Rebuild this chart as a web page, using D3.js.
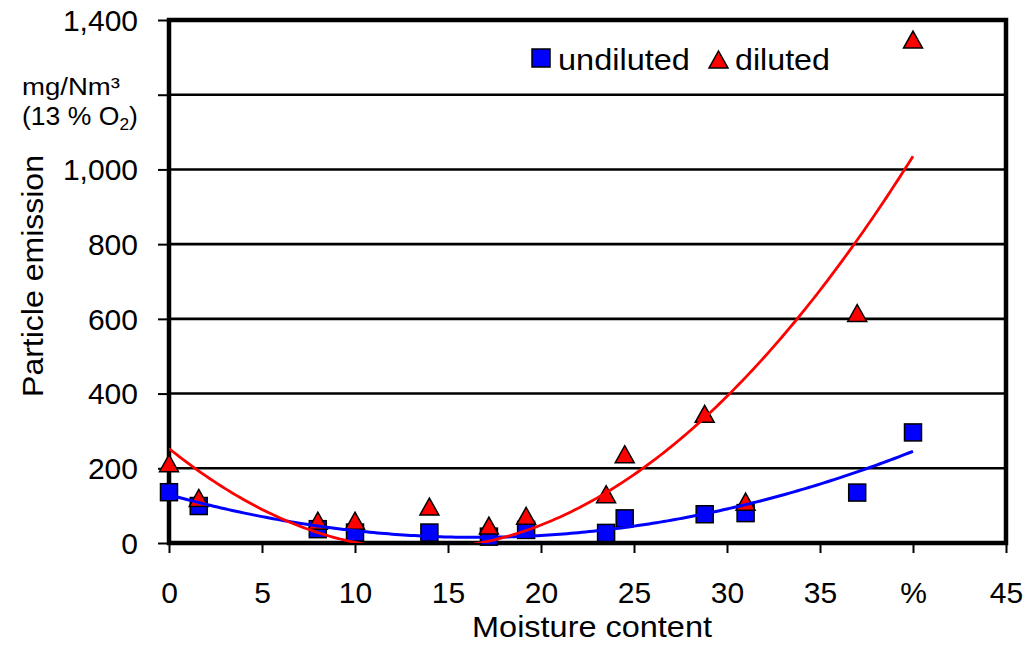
<!DOCTYPE html>
<html><head><meta charset="utf-8">
<script src="https://cdn.jsdelivr.net/npm/d3@7"></script>
<style>
body{margin:0;background:#fff}
text{font-family:"Liberation Sans",Arial,sans-serif;fill:#000}
</style>
</head><body>
<svg id="c" width="1027" height="645"></svg>
<script>
const moisture = [0, 1.6, 8, 10, 14, 17.2, 19.2, 23.5, 24.5, 28.8, 31, 37, 40];
const undiluted = [136, 99, 37, 28, 28, 17, 35, 27, 66, 77, 80, 135, 296];
const diluted = [211, 118, 57, 57, 95, 44, 70, 128, 235, 343, 108, 613, 1345];
const seriesNames = ["undiluted", "diluted"];
const xTicks = [0, 5, 10, 15, 20, 25, 30, 35, 40, 45];
const xTickLabels = ["0", "5", "10", "15", "20", "25", "30", "35", "%", "45"];
const yTicks = [0, 200, 400, 600, 800, 1000, 1200, 1400];
const yTickLabels = ["0", "200", "400", "600", "800", "1,000", "", "1,400"];

const svg = d3.select("#c");
const L = 169, R = 1006, T = 20, B = 543;
const x = d3.scaleLinear().domain([0, 45]).range([L, R]);
const y = d3.scaleLinear().domain([0, 1400]).range([B, T]);

// quadratic least squares fit (Excel-style polynomial trendline)
function polyfit2(xs, ys) {
  let S = [0,0,0,0,0], Ty = [0,0,0];
  xs.forEach((xv, i) => {
    for (let k = 0; k < 5; k++) S[k] += Math.pow(xv, k);
    for (let k = 0; k < 3; k++) Ty[k] += ys[i] * Math.pow(xv, k);
  });
  const A = [[S[0],S[1],S[2],Ty[0]],[S[1],S[2],S[3],Ty[1]],[S[2],S[3],S[4],Ty[2]]];
  for (let i = 0; i < 3; i++) {
    let p = i;
    for (let r = i+1; r < 3; r++) if (Math.abs(A[r][i]) > Math.abs(A[p][i])) p = r;
    [A[i], A[p]] = [A[p], A[i]];
    for (let r = 0; r < 3; r++) if (r !== i) {
      const f = A[r][i] / A[i][i];
      for (let c = i; c < 4; c++) A[r][c] -= f * A[i][c];
    }
  }
  return [A[0][3]/A[0][0], A[1][3]/A[1][1], A[2][3]/A[2][2]];
}

// place a text element and stretch it horizontally to a target width
function stretch(sel, tx, ty, anchor, w, rot) {
  sel.attr("x", 0).attr("y", 0).attr("text-anchor", anchor);
  const cw = sel.node().getBBox().width;
  sel.attr("transform", `translate(${tx},${ty})${rot ? " rotate(" + rot + ")" : ""} scale(${w / cw},1)`);
  return sel;
}

// gridlines
svg.append("g").selectAll("line").data(yTicks.filter(v => v > 0 && v < 1400)).join("line")
  .attr("x1", L).attr("x2", R).attr("y1", d => y(d)).attr("y2", d => y(d))
  .attr("stroke", "#000").attr("stroke-width", 2.6);

// y axis
const yAxis = d3.axisLeft(y).tickValues(yTicks).tickSize(11).tickPadding(20)
  .tickFormat((d, i) => yTickLabels[i]);
const gy = svg.append("g").attr("transform", `translate(${L},0)`).call(yAxis);
gy.select(".domain").remove();
gy.selectAll(".tick line").attr("stroke", "#000").attr("stroke-width", 2);
gy.selectAll(".tick text").attr("font-size", 30).attr("dy", "0.34em")
  .style("font-family", '"Liberation Sans", Arial, sans-serif');

// x axis
const xAxis = d3.axisBottom(x).tickValues(xTicks).tickSize(10)
  .tickFormat((d, i) => xTickLabels[i]);
const gx = svg.append("g").attr("transform", `translate(0,${B})`).call(xAxis);
gx.select(".domain").remove();
gx.selectAll(".tick line").attr("stroke", "#000").attr("stroke-width", 2);
gx.selectAll(".tick text").attr("font-size", 30).attr("y", 60).attr("dy", 0)
  .style("font-family", '"Liberation Sans", Arial, sans-serif');

// frame
svg.append("rect").attr("x", L).attr("y", T).attr("width", R - L).attr("height", B - T)
  .attr("fill", "none").attr("stroke", "#000").attr("stroke-width", 4.5);

// clip
svg.append("clipPath").attr("id", "plotclip").append("rect")
  .attr("x", L).attr("y", T).attr("width", R - L).attr("height", B - T);

// markers
const pts = moisture.map((m, i) => ({m, u: undiluted[i], d: diluted[i]}));
const sq = 17, triW = 19, triH = 17;
const triPath = (cx, cy) => `M${cx},${cy - triH/2 - 1}L${cx + triW/2},${cy + triH/2 - 1}L${cx - triW/2},${cy + triH/2 - 1}Z`;

svg.append("g").selectAll("rect").data(pts).join("rect")
  .attr("x", d => x(d.m) - sq/2).attr("y", d => y(d.u) - sq/2)
  .attr("width", sq).attr("height", sq)
  .attr("fill", "#0000ff").attr("stroke", "#000").attr("stroke-width", 1.5);

svg.append("g").selectAll("path").data(pts).join("path")
  .attr("d", d => triPath(x(d.m), y(d.d)))
  .attr("fill", "#ff0000").attr("stroke", "#000").attr("stroke-width", 1.5);

// trendlines
const cu = polyfit2(moisture, undiluted);
const cd = polyfit2(moisture, diluted);
const xs = d3.range(0, 40.001, 0.2);
const line = d3.line().x(d => x(d[0])).y(d => y(d[1]));
const tg = svg.append("g").attr("clip-path", "url(#plotclip)");
tg.append("path").attr("d", line(xs.map(v => [v, cu[0] + cu[1]*v + cu[2]*v*v])))
  .attr("fill", "none").attr("stroke", "#0000ff").attr("stroke-width", 3);
tg.append("path").attr("d", line(xs.map(v => [v, cd[0] + cd[1]*v + cd[2]*v*v])))
  .attr("fill", "none").attr("stroke", "#ff0000").attr("stroke-width", 2.8);

// unit label
stretch(svg.append("text").attr("font-size", 24).text("mg/Nm³"), 22, 95, "start", 98);
const u2 = svg.append("text").attr("font-size", 26);
u2.append("tspan").text("(13 % O");
u2.append("tspan").attr("font-size", 17).attr("dy", 5).text("2");
u2.append("tspan").attr("dy", -5).text(")");
stretch(u2, 22, 125, "start", 116);

// axis titles
stretch(svg.append("text").attr("font-size", 30).text("Particle emission"), 43, 276, "middle", 242, -90);
stretch(svg.append("text").attr("font-size", 29).text("Moisture content"), 592, 637, "middle", 240);

// legend
const lg = svg.append("g");
lg.append("rect").attr("x", 541 - 9).attr("y", 58 - 9).attr("width", 18).attr("height", 18)
  .attr("fill", "#0000ff").attr("stroke", "#000").attr("stroke-width", 1.5);
stretch(lg.append("text").attr("font-size", 30).text(seriesNames[0]), 558, 70, "start", 132);
lg.append("path").attr("d", triPath(718.5, 60.5))
  .attr("fill", "#ff0000").attr("stroke", "#000").attr("stroke-width", 1.5);
stretch(lg.append("text").attr("font-size", 30).text(seriesNames[1]), 735, 70, "start", 95);
</script>
</body></html>
